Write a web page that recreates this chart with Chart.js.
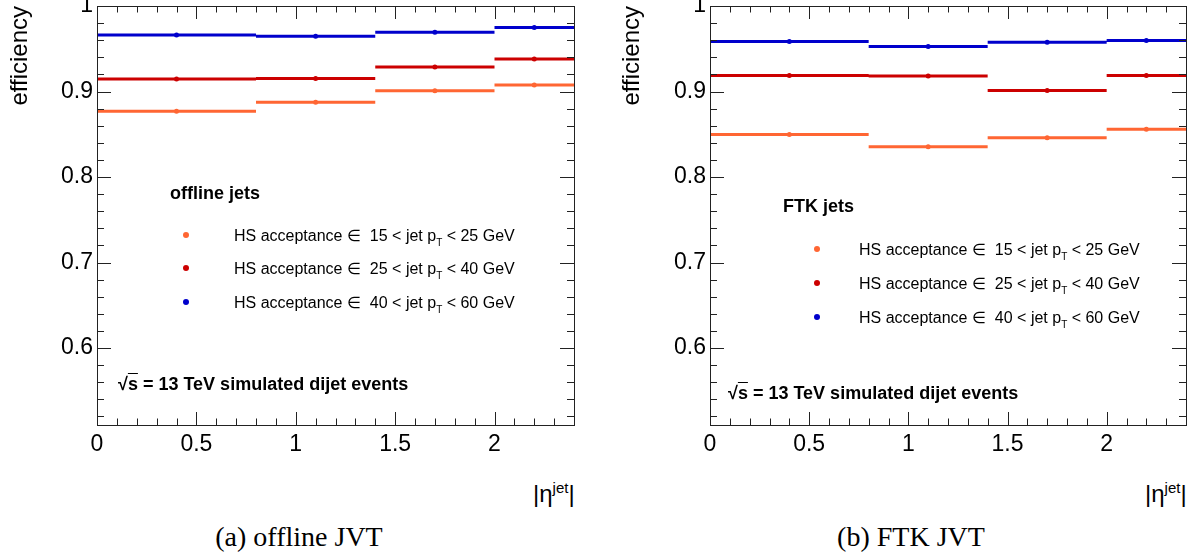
<!DOCTYPE html>
<html>
<head>
<meta charset="utf-8">
<script src="https://cdn.jsdelivr.net/npm/chart.js@4.4.1/dist/chart.umd.min.js"></script>
<style>
    body { margin: 0; background: #fff; font-family: "Liberation Sans", Arial, sans-serif; }
    #page { position: relative; width: 1199px; height: 557px; overflow: hidden; }
    canvas { position: absolute; top: 0; }
    .note { position: absolute; white-space: nowrap; color: #000; line-height: 20px; }
    .head { font-weight: bold; font-size: 18px; }
    .entry { font-size: 16px; }
    .entry sub { font-size: 10px; vertical-align: -5px; }
    .dot { position: absolute; width: 6px; height: 6px; border-radius: 50%; }
    .xtitle { position: absolute; font-size: 24px; line-height: 28px; }
    .xtitle sup { font-size: 15px; vertical-align: 9px; }
    .caption { position: absolute; font-family: "Liberation Serif", "Times New Roman", serif; font-size: 28px; line-height: 30px; transform: translateX(-50%); white-space: nowrap; }
</style>
</head>
<body>
<div id="page">
    <canvas id="offlineChart" width="600" height="470" style="left:0"></canvas>
    <canvas id="ftkChart" width="599" height="470" style="left:600px"></canvas>
</div>
<script>
// bins in |eta| and tick labels
const binEdges = [0, 0.8, 1.4, 2.0, 2.4];
const binCentres = [0.4, 1.1, 1.7, 2.2];
const xTicks = [0, 0.5, 1, 1.5, 2];
const yTicks = [0.6, 0.7, 0.8, 0.9, 1];

const seriesLabels = [
    "15 < jet pT < 25 GeV",
    "25 < jet pT < 40 GeV",
    "40 < jet pT < 60 GeV"
];
const seriesColors = ["#ff6633", "#cc0000", "#0000cc"];

// offline JVT efficiencies
const offlineLow = [0.877, 0.8875, 0.901, 0.9075];
const offlineMid = [0.9145, 0.9152, 0.9287, 0.938];
const offlineHigh = [0.966, 0.9646, 0.9693, 0.9748];

// FTK JVT efficiencies
const ftkLow = [0.8498, 0.8353, 0.8458, 0.856];
const ftkMid = [0.9187, 0.918, 0.9012, 0.9187];
const ftkHigh = [0.9584, 0.9526, 0.9576, 0.9596];

// horizontal bin lines, a null point breaks the line between bins
function binLine(values) {
    const pts = [];
    values.forEach((v, i) => {
        pts.push({ x: binEdges[i], y: v }, { x: binEdges[i + 1], y: v }, { x: binEdges[i + 1], y: null });
    });
    return pts;
}

function binPoints(values) {
    return values.map((v, i) => ({ x: binCentres[i], y: v }));
}

// ROOT style frame with inward ticks on all four sides
const frameTicks = {
    id: "frameTicks",
    afterDatasetsDraw(chart) {
        const { ctx, chartArea: a, scales: { x, y } } = chart;
        ctx.save();
        ctx.strokeStyle = "#222";
        ctx.lineWidth = 1;
        ctx.beginPath();
        for (let i = 1; i < 24; i++) {
            const px = Math.round(x.getPixelForValue(i / 10)) + 0.5;
            const len = i % 5 === 0 ? 13 : 6.5;
            ctx.moveTo(px, a.bottom);
            ctx.lineTo(px, a.bottom - len);
            ctx.moveTo(px, a.top);
            ctx.lineTo(px, a.top + len);
        }
        for (let i = 26; i < 50; i++) {
            const py = Math.round(y.getPixelForValue(i / 50)) + 0.5;
            const len = i % 5 === 0 ? 14 : 7;
            ctx.moveTo(a.left, py);
            ctx.lineTo(a.left + len, py);
            ctx.moveTo(a.right, py);
            ctx.lineTo(a.right - len, py);
        }
        ctx.stroke();
        ctx.strokeRect(Math.round(a.left) + 0.5, Math.round(a.top) + 0.5,
            Math.round(a.right - a.left), Math.round(a.bottom - a.top));
        ctx.restore();
    }
};

function initializePanel(canvasId, seriesValues, plotLeft, plotRight, titleShift) {
    const canvas = document.getElementById(canvasId);
    const datasets = [];
    seriesValues.forEach((values, i) => {
        datasets.push({
            label: seriesLabels[i],
            data: binLine(values),
            borderColor: seriesColors[i],
            borderWidth: 3,
            pointRadius: 0,
            spanGaps: false
        });
        datasets.push({
            label: seriesLabels[i] + " points",
            data: binPoints(values),
            showLine: false,
            backgroundColor: seriesColors[i],
            borderColor: seriesColors[i],
            pointRadius: 2.5,
            borderWidth: 0
        });
    });

    return new Chart(canvas.getContext("2d"), {
        type: "line",
        data: { datasets: datasets },
        options: {
            responsive: false,
            animation: false,
            devicePixelRatio: 1,
            layout: { padding: { left: 0, right: canvas.width - plotRight, top: 6, bottom: 0 } },
            plugins: { legend: { display: false }, tooltip: { enabled: false } },
            scales: {
                x: {
                    type: "linear",
                    min: 0,
                    max: 2.4,
                    grid: { display: false, drawTicks: false },
                    border: { display: false },
                    afterBuildTicks: s => { s.ticks = xTicks.map(v => ({ value: v })); },
                    afterFit: s => { s.height = 45; s.paddingLeft = 0; s.paddingRight = 0; },
                    ticks: {
                        color: "#000",
                        padding: 6,
                        maxRotation: 0,
                        font: { family: "Liberation Sans", size: 23 },
                        callback: v => String(v)
                    }
                },
                y: {
                    min: 0.51,
                    max: 1,
                    grid: { display: false, drawTicks: false },
                    border: { display: false },
                    afterBuildTicks: s => { s.ticks = yTicks.map(v => ({ value: v })); },
                    afterFit: s => { s.width = plotLeft; s.paddingTop = 0; s.paddingBottom = 0; },
                    title: {
                        display: true,
                        text: "efficiency",
                        align: "end",
                        color: "#000",
                        padding: { top: titleShift, bottom: 0 },
                        font: { family: "Liberation Sans", size: 24 }
                    },
                    ticks: {
                        color: "#000",
                        padding: 4,
                        font: { family: "Liberation Sans", size: 23 },
                        callback: v => String(v)
                    }
                }
            }
        },
        plugins: [frameTicks]
    });
}

// text boxes, legend entries and captions as html on top of the canvases
function addNote(html, cls, left, centreY) {
    const el = document.createElement("div");
    el.className = "note " + cls;
    el.style.left = left + "px";
    el.style.top = (centreY - 10) + "px";
    el.innerHTML = html;
    document.getElementById("page").appendChild(el);
}

function addLegend(headText, headPos, dotX, textX, rowsY, sqrtPos) {
    addNote(headText, "head", headPos[0], headPos[1]);
    seriesLabels.forEach((label, i) => {
        const dot = document.createElement("div");
        dot.className = "dot";
        dot.style.background = seriesColors[i];
        dot.style.left = (dotX - 3) + "px";
        dot.style.top = (rowsY[i] - 3) + "px";
        document.getElementById("page").appendChild(dot);
        const text = "HS acceptance &isin;&nbsp; " + label.replace("pT", "p<sub>T</sub>");
        addNote(text, "entry", textX, rowsY[i] + 1);
    });
    addNote('&radic;<span style="text-decoration:overline">s</span> = 13 TeV simulated dijet events', "head", sqrtPos[0], sqrtPos[1]);
}

function addAxisText(rightX, caption, captionX) {
    const page = document.getElementById("page");
    const xt = document.createElement("div");
    xt.className = "xtitle";
    xt.style.left = (rightX - 45) + "px";
    xt.style.top = "474px";
    xt.innerHTML = "|&eta;<sup>jet</sup>|";
    page.appendChild(xt);
    const cap = document.createElement("div");
    cap.className = "caption";
    cap.style.left = captionX + "px";
    cap.style.top = "522px";
    cap.textContent = caption;
    page.appendChild(cap);
}

document.addEventListener("DOMContentLoaded", () => {
    initializePanel("offlineChart", [offlineLow, offlineMid, offlineHigh], 97, 574, 6);
    initializePanel("ftkChart", [ftkLow, ftkMid, ftkHigh], 110, 586, 18);

    addLegend("offline jets", [170, 193], 186, 234, [235, 268, 302], [118, 384]);
    addLegend("FTK jets", [783, 206], 817, 859, [249, 283, 317], [728, 393]);

    addAxisText(578, "(a) offline JVT", 299);
    addAxisText(1190, "(b) FTK JVT", 911);
});
</script>
</body>
</html>
